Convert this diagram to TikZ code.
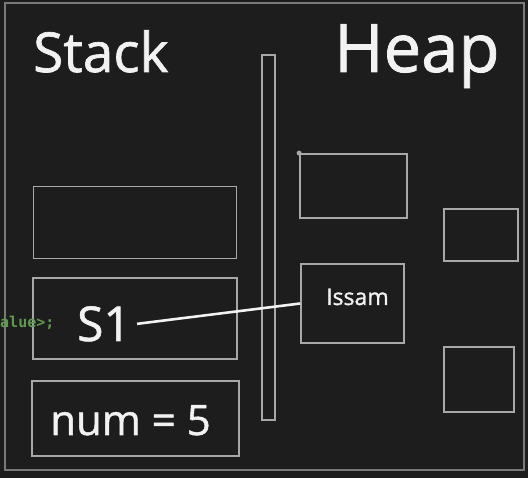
\documentclass[tikz,border=0pt]{standalone}
\usepackage{fontspec}
\setmainfont{Open Sans}[FakeBold=1.2]
\setmonofont{DejaVu Sans Mono}
\usepackage{tikz}
\usetikzlibrary{positioning}

\definecolor{board}{HTML}{1D1D1D}
\definecolor{boxgray}{HTML}{A8A8A8}
\definecolor{framegray}{HTML}{7A7A7A}
\definecolor{chalk}{HTML}{F2F2F2}
\definecolor{codegreen}{HTML}{5F9A4E}

\tikzset{
  cell/.style={draw=boxgray,line width=1.8pt,inner sep=0pt},
  title/.style={text=chalk,inner sep=0pt,anchor=base west},
  link/.style={draw=chalk,line width=2.6pt}
}

\begin{document}
\begin{tikzpicture}[x=1pt,y=-1pt]
\useasboundingbox[fill=board] (0,0) rectangle (528,478);
\draw[framegray,line width=2pt] (5,3) rectangle (524,470);
% titles
\node (stack) [title,font=\fontsize{55}{55}\selectfont] at (33,72) {Stack};
\node (heap) [title,font=\fontsize{67}{67}\selectfont] at (334,72) {Heap};
% separator
\node (wall) [cell,minimum width=13pt,minimum height=365pt] at (268.5,237.5) {};
% stack frames
\node (frame1) [cell,minimum width=203pt,minimum height=72pt] at (135,222.5) {};
\node (frame2) [cell,minimum width=204pt,minimum height=81pt] at (135,318.5) {};
\node (frame3) [cell,minimum width=207pt,minimum height=75pt] at (135.5,418.5) {};
\node (s1) [text=chalk,anchor=base,font=\fontsize{48}{48}\selectfont,inner sep=6pt] at (104,341) {S1};
\node (num) [text=chalk,anchor=base,font=\fontsize{42}{42}\selectfont] at (130.5,435) {num = 5};
\node (code) [text=codegreen,anchor=west,inner sep=0pt,font=\ttfamily\bfseries\fontsize{15}{15}\selectfont] at (0,323) {alue>;};
% heap objects
\node (obj1) [cell,minimum width=107pt,minimum height=64pt] at (353.5,186) {};
\fill[boxgray] (obj1.north west) circle (2.5pt);
\node (obj2) [cell,minimum width=103pt,minimum height=79pt] at (352.5,303.5) {};
\node (name) [text=chalk,anchor=base west,inner sep=0pt,font=\fontsize{23}{23}\selectfont] at (326,305) {Issam};
\node (obj3) [cell,minimum width=74pt,minimum height=52pt] at (481,235) {};
\node (obj4) [cell,minimum width=70pt,minimum height=65pt] at (479,379.5) {};
% reference
\draw[link] (s1.east) -- (obj2.west);
\end{tikzpicture}
\end{document}
